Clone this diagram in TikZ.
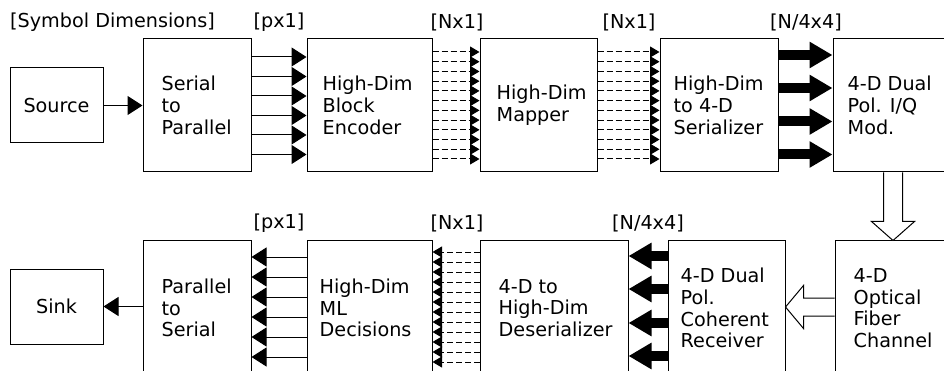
\documentclass[tikz,border=0pt]{standalone}
\usepackage{fontspec}
\setmainfont{DejaVu Sans}
\usetikzlibrary{arrows.meta,calc}
\begin{document}
\begin{tikzpicture}[x=1pt,y=-1pt,
  fnt/.style={font=\fontsize{19.2}{21.7}\selectfont},
  box/.style={draw, line width=1pt, inner sep=0pt, fnt},
  txt/.style={inner sep=0pt, align=left, anchor=west, fnt},
  lbl/.style={inner sep=0pt, fnt},
  thinarr/.style={line width=1pt, -{Triangle[length=15pt 0 0,width=19pt 0 0]}},
  dasharr/.style={line width=1pt, dash pattern=on 6pt off 3pt, -{Triangle[length=9.5pt 0 0,width=11pt 0 0]}},
  thickarr/.style={line width=10pt, -{Triangle[length=23pt 0 0,width=25pt 0 0]}},
  hollow/.style={draw, fill=white, line width=1pt, line join=miter}]
\clip (0,0) rectangle (944,371);
\fill[white] (0,0) rectangle (944,371);

% labels
\node[lbl, anchor=west] (l0) at (10,22) {[Symbol Dimensions]};
\node[lbl] (l1) at (279,22) {[px1]};
\node[lbl] (l2) at (457,22) {[Nx1]};
\node[lbl] (l3) at (629,22) {[Nx1]};
\node[lbl] (l4) at (806,22) {[N/4x4]};
\node[lbl] (l5) at (279,223) {[px1]};
\node[lbl] (l6) at (457,223) {[Nx1]};
\node[lbl] (l7) at (648,223) {[N/4x4]};

% top row
\node[box, minimum width=93pt, minimum height=75pt] (src) at (56.5,105.5) {Source};
\node[box, minimum width=108pt, minimum height=133pt] (s2p) at (197,105.5) {};
\node[txt] (s2pt) at ($(s2p.west)+(19,0)$) {Serial\\to\\Parallel};
\node[box, minimum width=125pt, minimum height=133pt] (enc) at (369.5,105.5) {};
\node[txt] (enct) at ($(enc.west)+(16,0)$) {High-Dim\\Block\\Encoder};
\node[box, minimum width=117pt, minimum height=133pt] (map) at (538.5,105.5) {};
\node[txt] (mapt) at ($(map.west)+(17,0)$) {High-Dim\\Mapper};
\node[box, minimum width=118pt, minimum height=133pt] (ser) at (719,105.5) {};
\node[txt] (sert) at ($(ser.west)+(14,0)$) {High-Dim\\to 4-D\\Serializer};
\node[box, minimum width=127pt, minimum height=133pt] (mod) at (896.5,105.5) {};
\node[txt] (modt) at ($(mod.west)+(15,0)$) {4-D Dual\\Pol. I/Q\\Mod.};

% bottom row
\node[box, minimum width=93pt, minimum height=75pt] (sink) at (56.5,306.5) {Sink};
\node[box, minimum width=108pt, minimum height=134pt] (p2s) at (197,308) {};
\node[txt] (p2st) at ($(p2s.west)+(19,0)$) {Parallel\\to\\Serial};
\node[box, minimum width=125pt, minimum height=134pt] (dec) at (369.5,308) {};
\node[txt] (dect) at ($(dec.west)+(13,0)$) {High-Dim\\ML\\Decisions};
\node[box, minimum width=148pt, minimum height=134pt] (des) at (554,308) {};
\node[txt] (dest) at ($(des.west)+(19,0)$) {4-D to\\High-Dim\\Deserializer};
\node[box, minimum width=117pt, minimum height=134pt] (rcv) at (726.5,308) {};
\node[txt] (rcvt) at ($(rcv.west)+(13,0)$) {4-D Dual\\Pol.\\Coherent\\Receiver};
\node[box, minimum width=125pt, minimum height=134pt] (fib) at (897.5,308) {};
\node[txt] (fibt) at ($(fib.west)+(19,0)$) {4-D\\Optical\\Fiber\\Channel};

% top connectors
\draw[thinarr] (src.east) -- (s2p.west |- src.east);
\foreach \o in {-48.5,-29,-9.5,10,29.5,49}
  \draw[thinarr] ($(s2p.east)+(0,\o)$) -- ($(enc.west)+(0,\o)$);
\foreach [evaluate=\k as \o using -53.5+9.727*\k] \k in {0,...,11}{
  \draw[dasharr] ($(enc.east)+(0,\o)$) -- ($(map.west)+(0,\o)$);
  \draw[dasharr] ($(map.east)+(0,\o)$) -- ($(ser.west)+(0,\o)$);
}
\foreach \o in {-50.5,-17.5,16,49}
  \draw[thickarr] ($(ser.east)+(0,\o)$) -- ($(mod.west)+(0,\o)$);

% hollow arrows
\draw[hollow] ($(mod.south)+(-13,0)$) -- ++(0,49) -- ++(-12,0) -- ++(21.5,19)
  -- ++(21.5,-19) -- ++(-12,0) -- ++(0,-49);
\draw[hollow] ($(fib.west)+(0,-10)$) -- ++(-31,0) -- ++(0,-12.5) -- ++(-18,21.5)
  -- ++(18,21.5) -- ++(0,-12.5) -- ++(31,0);

% bottom connectors
\draw[thinarr] (p2s.west |- sink.east) -- (sink.east);
\foreach \o in {-51,-31,-11,9,29,49}
  \draw[thinarr] ($(dec.west)+(0,\o)$) -- ($(p2s.east)+(0,\o)$);
\foreach [evaluate=\k as \o using -56+10*\k] \k in {0,...,11}
  \draw[dasharr] ($(des.west)+(0,\o)$) -- ($(dec.east)+(0,\o)$);
\foreach \o in {-52,-19,15,48}
  \draw[thickarr] ($(rcv.west)+(0,\o)$) -- ($(des.east)+(0,\o)$);
\end{tikzpicture}
\end{document}
